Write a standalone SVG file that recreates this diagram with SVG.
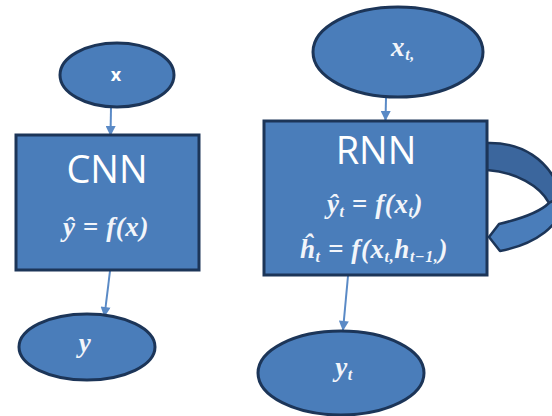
<svg xmlns="http://www.w3.org/2000/svg" width="552" height="416" viewBox="0 0 552 416">
  <style>
    .shape { fill: #4a7dba; stroke: #1c3558; stroke-width: 3; }
    .band-dark { fill: #3b669d; stroke: #1c3558; stroke-width: 2.5; stroke-linejoin: round; }
    .band-light { fill: #4a7dba; stroke: #1c3558; stroke-width: 2.5; stroke-linejoin: round; }
    .title { font-family: "Open Sans", "Noto Sans", sans-serif; font-size: 38px; fill: #ffffff; text-anchor: middle; }
    .math { font-family: "Liberation Serif", serif; font-style: italic; font-weight: bold; font-size: 27px; letter-spacing: 0.6px; fill: #f2f5fa; text-anchor: middle; }
    .sub { font-size: 16px; }
    .label { font-family: "Open Sans", sans-serif; font-size: 18px; font-weight: bold; fill: #ffffff; text-anchor: middle; }
    .link { stroke: #5a8ac6; stroke-width: 2; fill: none; marker-end: url(#head); }
  </style>
  <defs>
    <marker id="head" viewBox="0 0 10 10" refX="9" refY="5" markerWidth="6" markerHeight="5" orient="auto" markerUnits="strokeWidth">
      <path d="M0,0 L10,5 L0,10 Z" fill="#5a8ac6"/>
    </marker>
  </defs>

  <rect width="552" height="416" fill="#ffffff"/>

  <!-- connectors -->
  <g id="connectors">
    <line class="link" x1="111" y1="108" x2="110.5" y2="135"/>
    <line class="link" x1="110" y1="271" x2="104.5" y2="316"/>
    <line class="link" x1="386" y1="98" x2="385.5" y2="120"/>
    <line class="link" x1="348" y1="276" x2="343" y2="330"/>
  </g>

  <!-- CNN branch -->
  <g id="node-x">
    <ellipse class="shape" cx="117" cy="75" rx="57" ry="32"/>
    <text class="label" x="116" y="81">x</text>
  </g>

  <g id="node-cnn">
    <rect class="shape" x="16" y="135" width="183" height="135"/>
    <text class="title" x="107" y="183">CNN</text>
    <text class="math" x="106" y="236">ŷ = f(x)</text>
  </g>

  <g id="node-y">
    <ellipse class="shape" cx="87" cy="347" rx="68" ry="33"/>
    <text class="math" x="85" y="352">y</text>
  </g>

  <!-- RNN branch -->
  <g id="node-xt">
    <ellipse class="shape" cx="398" cy="52" rx="85" ry="45"/>
    <text class="math" x="403" y="56" font-size="24">x<tspan class="sub" dy="4">t,</tspan></text>
  </g>

  <g id="node-loop">
    <path class="band-dark" d="M487,143 C520,142 550,158 562,196 L549,203 C540,186 516,172 487,170 Z"/>
    <path class="band-light" d="M562,196 C566,226 532,245 500,251 L489,237 L499,224 C520,219 540,212 549,203 Z"/>
  </g>

  <g id="node-rnn">
    <rect class="shape" x="264" y="121" width="223" height="154"/>
    <text class="title" x="376" y="164">RNN</text>
    <text class="math" x="375" y="213">ŷ<tspan class="sub" dy="4">t</tspan><tspan dy="-4"> = f(x</tspan><tspan class="sub" dy="4">t</tspan><tspan dy="-4">)</tspan></text>
    <text class="math" x="374" y="258">ĥ<tspan class="sub" dy="4">t</tspan><tspan dy="-4"> = f(x</tspan><tspan class="sub" dy="4">t,</tspan><tspan dy="-4">h</tspan><tspan class="sub" dy="4">t−1,</tspan><tspan dy="-4">)</tspan></text>
  </g>

  <g id="node-yt">
    <ellipse class="shape" cx="341" cy="373" rx="83" ry="42"/>
    <text class="math" x="344" y="376">y<tspan class="sub" dy="4">t</tspan></text>
  </g>
</svg>
